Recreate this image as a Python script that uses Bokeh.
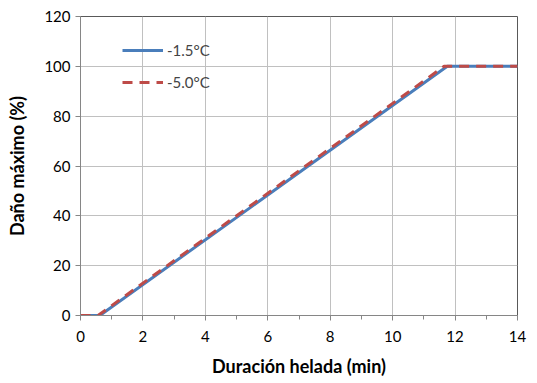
from bokeh.plotting import figure
from bokeh.embed import file_html
from bokeh.resources import INLINE
from bokeh.models import FixedTicker, Legend, LegendItem

# Data
x_blue = [0, 0.62, 11.75, 14]
y_blue = [0, 0, 100, 100]
x_red = [0, 0.56, 11.65, 14]
y_red = [0, 0, 100, 100]
label_blue = "-1.5°C"
label_red = "-5.0°C"
x_ticks = [0, 2, 4, 6, 8, 10, 12, 14]
y_ticks = [0, 20, 40, 60, 80, 100, 120]

FONT = "Lato"

p = figure(width=537, height=383, output_backend="svg", toolbar_location=None,
           x_range=(0, 14), y_range=(0, 120))
p.min_border_left = 80
p.min_border_right = 20
p.min_border_top = 16
p.min_border_bottom = 68

p.outline_line_color = "#595959"
p.outline_line_width = 1

rb = p.line(x_blue, y_blue, line_color="#4a7ebb", line_width=3)
rr = p.line(x_red, y_red, line_color="#be4b48", line_width=3, line_dash="10 7")

p.xaxis.ticker = FixedTicker(ticks=x_ticks, minor_ticks=list(range(0, 15)))
p.yaxis.ticker = FixedTicker(ticks=y_ticks)
p.xgrid.ticker = FixedTicker(ticks=x_ticks)
p.ygrid.ticker = FixedTicker(ticks=y_ticks)

for g in (p.xgrid, p.ygrid):
    g.grid_line_color = "#c0c0c0"
    g.grid_line_width = 1

for ax in (p.xaxis, p.yaxis):
    ax.axis_line_color = "#868686"
    ax.major_tick_line_color = "#868686"
    ax.minor_tick_line_color = "#868686"
    ax.major_tick_in = 0
    ax.major_tick_out = 5
    ax.minor_tick_in = 0
    ax.minor_tick_out = 4
    ax.major_label_text_font = FONT
    ax.major_label_text_font_size = "15px"
    ax.major_label_text_color = "#000000"
    ax.axis_label_text_font = FONT
    ax.axis_label_text_font_size = "18px"
    ax.axis_label_text_font_style = "bold"
    ax.axis_label_text_color = "#000000"

p.yaxis.minor_tick_line_color = None
p.xaxis.axis_label = "Duración helada (min)"
p.yaxis.axis_label = "Daño máximo (%)"
p.xaxis.major_label_standoff = 10
p.yaxis.major_label_standoff = 5
p.xaxis.axis_label_standoff = 10
p.yaxis.axis_label_standoff = 13

legend = Legend(items=[LegendItem(label=label_blue, renderers=[rb]),
                       LegendItem(label=label_red, renderers=[rr])],
                location=(42, 223))
legend.margin = 0
legend.padding = 0
legend.border_line_color = None
legend.background_fill_alpha = 0
legend.label_text_font = FONT
legend.label_text_font_size = "15px"
legend.label_height = 20
legend.glyph_height = 20
legend.glyph_width = 41
legend.spacing = 12
legend.label_standoff = 4
p.add_layout(legend)

open("out.html", "w").write(file_html(p, INLINE))
